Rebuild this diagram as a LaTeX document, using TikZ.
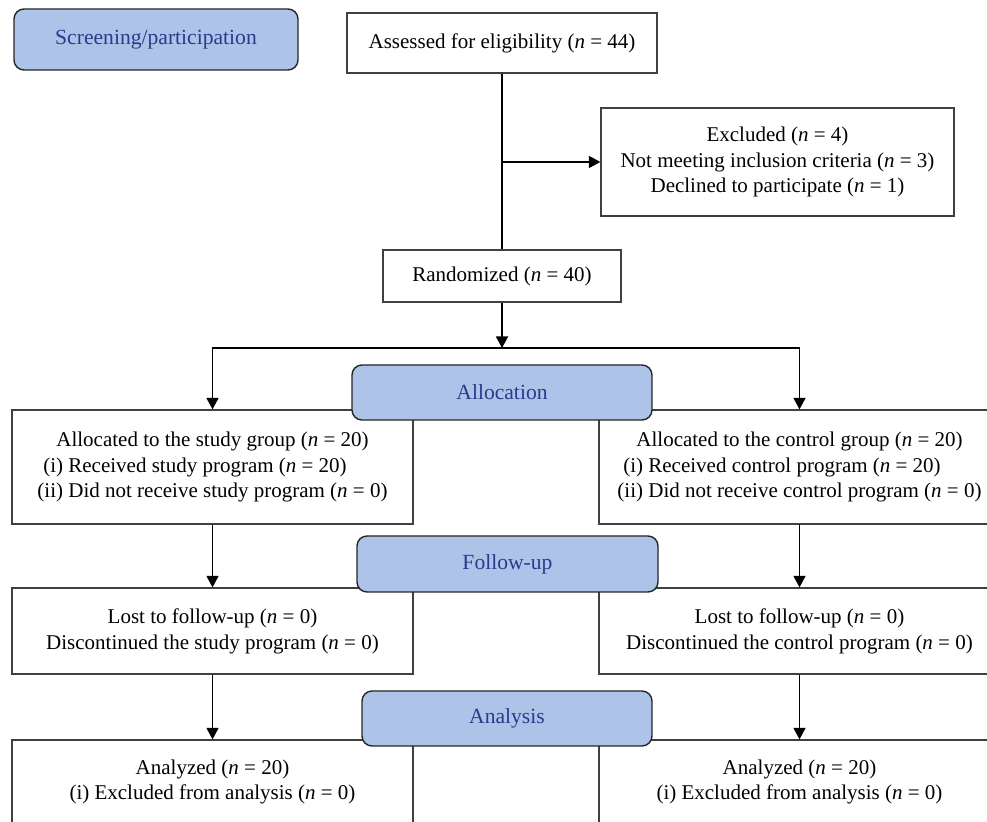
\documentclass[tikz,border=0pt]{standalone}
\usepackage{fontspec}
\setmainfont{Liberation Serif}
\usetikzlibrary{arrows.meta,calc}
\definecolor{hdrfill}{HTML}{AEC3E8}
\definecolor{hdrtext}{HTML}{2B3A8C}
\begin{document}
\begin{tikzpicture}[x=0.5pt,y=-0.5pt,
  every node/.style={font=\fontsize{10.5}{12.9}\selectfont},
  flowbox/.style={draw=black!75, line width=0.6pt, fill=white, inner sep=0pt, align=center, text=black},
  hdrbox/.style={draw=black!85, line width=0.7pt, fill=hdrfill, rounded corners=5pt, inner sep=0pt, text=hdrtext, font=\fontsize{10.8}{13}\selectfont},
  link/.style={line width=0.9pt, draw=black},
  arr/.style={link, -{Triangle[length=5.8pt,width=6pt]}}]
\useasboundingbox (0,0) rectangle (987,822);
\clip (0,0) rectangle (987,822);
% flow boxes
\node[flowbox, minimum width=155pt, minimum height=30pt] (assess) at (502,43) {Assessed for eligibility (\textit{n} = 44)};
\node[flowbox, minimum width=176.5pt, minimum height=54pt] (excl) at (777.5,162) {Excluded (\textit{n} = 4)\\Not meeting inclusion criteria (\textit{n} = 3)\\Declined to participate (\textit{n} = 1)};
\node[flowbox, minimum width=119pt, minimum height=26pt] (rand) at (502,276) {Randomized (\textit{n} = 40)};
\node[flowbox, minimum width=200.5pt, minimum height=57pt] (allocL) at (212.5,467) {\raisebox{1.5pt}{\begin{tabular}{@{}r@{\ }l@{}}\multicolumn{2}{@{}c@{}}{Allocated to the study group (\textit{n} = 20)}\\(i)&Received study program (\textit{n} = 20)\\(ii)&Did not receive study program (\textit{n} = 0)\end{tabular}}};
\node[flowbox, minimum width=200.5pt, minimum height=57pt] (allocR) at (799.5,467) {\raisebox{1.5pt}{\begin{tabular}{@{}r@{\ }l@{}}\multicolumn{2}{@{}c@{}}{Allocated to the control group (\textit{n} = 20)}\\(i)&Received control program (\textit{n} = 20)\\(ii)&Did not receive control program (\textit{n} = 0)\end{tabular}}};
\node[flowbox, minimum width=200.5pt, minimum height=43pt] (lostL) at (212.5,631) {Lost to follow-up (\textit{n} = 0)\\Discontinued the study program (\textit{n} = 0)};
\node[flowbox, minimum width=200.5pt, minimum height=43pt] (lostR) at (799.5,631) {Lost to follow-up (\textit{n} = 0)\\Discontinued the control program (\textit{n} = 0)};
\node[flowbox, minimum width=200.5pt, minimum height=42pt] (anaL) at (212.5,782) {Analyzed (\textit{n} = 20)\\(i) Excluded from analysis (\textit{n} = 0)};
\node[flowbox, minimum width=200.5pt, minimum height=42pt] (anaR) at (799.5,782) {Analyzed (\textit{n} = 20)\\(i) Excluded from analysis (\textit{n} = 0)};
% connectors
\coordinate (exclbr) at (assess.south |- excl.west);
\coordinate (split) at (502,348);
\draw[link] (assess.south) -- (rand.north);
\draw[arr] (exclbr) -- (excl.west);
\draw[arr] (rand.south) -- (split);
\draw[arr] (split) -| (allocL.north);
\draw[arr] (split) -| (allocR.north);
\draw[arr] (allocL.south) -- (lostL.north);
\draw[arr] (allocR.south) -- (lostR.north);
\draw[arr] (lostL.south) -- (anaL.north);
\draw[arr] (lostR.south) -- (anaR.north);
% stage headers
\node[hdrbox, minimum width=142pt, minimum height=30.5pt] (screen) at (156,39.5) {Screening/participation};
\node[hdrbox, minimum width=150pt, minimum height=27.5pt] (alloc) at (502,392.5) {Allocation};
\node[hdrbox, minimum width=150.5pt, minimum height=28pt] (follow) at (507.5,564) {Follow-up};
\node[hdrbox, minimum width=145pt, minimum height=27.5pt] (anal) at (507,718.5) {Analysis};
\end{tikzpicture}
\end{document}
